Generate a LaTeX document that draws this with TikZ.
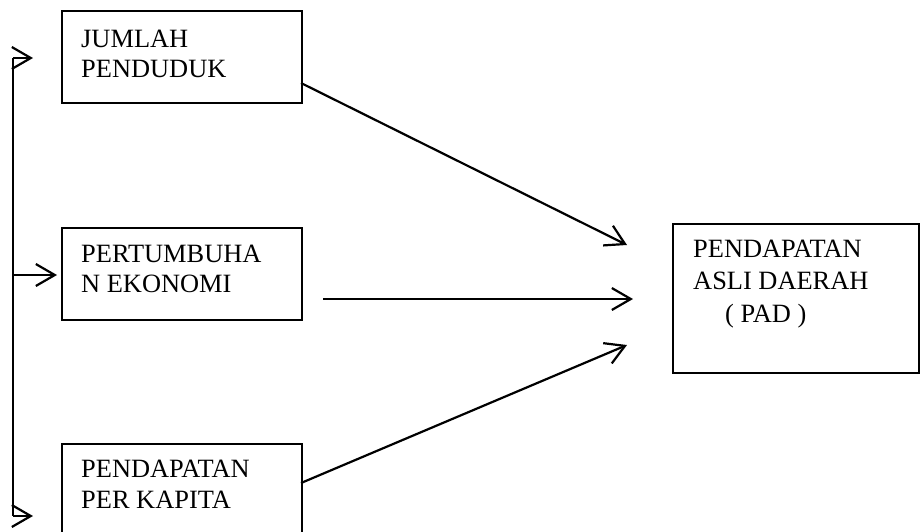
\documentclass[tikz,border=0pt]{standalone}
\usepackage{fontspec}
\setmainfont{Liberation Serif}
\usetikzlibrary{arrows.meta}
\begin{document}
\begin{tikzpicture}[x=1pt,y=-1pt,
  box/.style={draw,line width=2.2pt,anchor=north west,inner sep=0pt},
  txt/.style={anchor=base west,inner sep=0pt,font=\fontsize{26.4}{30}\selectfont},
  arr/.style={line width=2.2pt,-{Straight Barb[length=19pt,width=22pt,line width=2.2pt]}},
  ln/.style={line width=2.2pt}]
\clip (0,0) rectangle (920,531);
\fill[white] (0,0) rectangle (920,531);
% boxes
\node[box,minimum width=240pt,minimum height=92pt] (b1) at (61,10) {};
\node[box,minimum width=240pt,minimum height=92pt] (b2) at (61,227) {};
\node[box,minimum width=240pt,minimum height=100pt] (b3) at (61,443) {};
\node[box,minimum width=246pt,minimum height=149pt] (b4) at (672,223) {};
% texts
\node[txt] (t11) at (81,47) {JUMLAH};
\node[txt] (t12) at (81,77) {PENDUDUK};
\node[txt] (t21) at (81,262) {PERTUMBUHA};
\node[txt] (t22) at (81,292) {N EKONOMI};
\node[txt] (t31) at (81,477) {PENDAPATAN};
\node[txt] (t32) at (81,508) {PER KAPITA};
\node[txt] (t41) at (693,257) {PENDAPATAN};
\node[txt] (t42) at (693,289) {ASLI DAERAH};
\node[txt] (t43) at (725,322) {( PAD )};
% coordinates
\coordinate (s1) at (301,83);
\coordinate (e1) at (627,245);
\coordinate (s2) at (323,299);
\coordinate (e2) at (633,299);
\coordinate (s3) at (301,483);
\coordinate (e3) at (627,345);
\coordinate (vt) at (13,58);
\coordinate (vm) at (13,275);
\coordinate (vb) at (13,516);
\coordinate (lt) at (33,58);
\coordinate (lm) at (57,275);
\coordinate (lb) at (33,516);
% connectors
\draw[arr] (s1) -- (e1);
\draw[arr] (s2) -- (e2);
\draw[arr] (s3) -- (e3);
\draw[ln] (vt) -- (vb);
\draw[arr] (vt) -- (lt);
\draw[arr] (vm) -- (lm);
\draw[arr] (vb) -- (lb);
\end{tikzpicture}
\end{document}
